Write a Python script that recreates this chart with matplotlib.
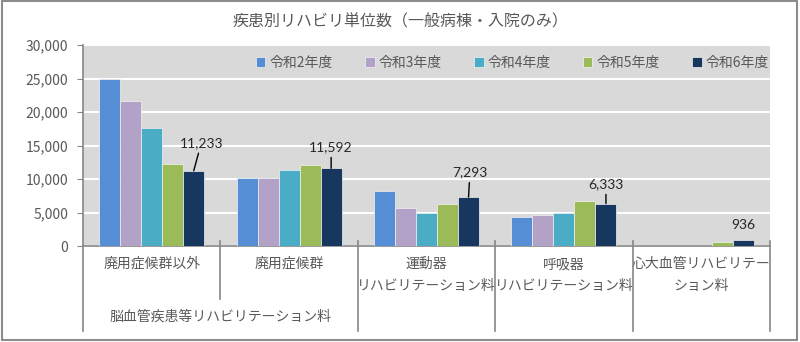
import matplotlib
matplotlib.use("Agg")
import matplotlib.pyplot as plt
import numpy as np
from matplotlib.patches import Rectangle
from matplotlib.ticker import FuncFormatter

plt.rcParams['font.family'] = ['Noto Sans CJK JP', 'DejaVu Sans']

title = "疾患別リハビリ単位数（一般病棟・入院のみ）"
categories = ["廃用症候群以外", "廃用症候群", "運動器\nリハビリテーション料",
              "呼吸器\nリハビリテーション料", "心大血管リハビリテー\nション料"]
group_label = "脳血管疾患等リハビリテーション料"
series_names = ["令和2年度", "令和3年度", "令和4年度", "令和5年度", "令和6年度"]
r2 = [25000, 10100, 8200, 4300, 0]
r3 = [21600, 10100, 5600, 4600, 0]
r4 = [17600, 11400, 5000, 5000, 0]
r5 = [12200, 12100, 6300, 6700, 550]
r6 = [11233, 11592, 7293, 6333, 936]
series = [r2, r3, r4, r5, r6]
colors = ["#558ED5", "#B3A2C7", "#4BACC6", "#9BBB59", "#17375E"]
yticks = [0, 5000, 10000, 15000, 20000, 25000, 30000]

# label offsets (points) for the last-series data labels
label_offsets = [(5.4, 19.9), (0, 15.3), (1, 18), (0, 14.1), (0, 10.6)]
label_leader = [True, True, True, True, False]

fig = plt.figure(figsize=(8, 3.42), dpi=100)
ax = fig.add_axes([83/800, 1-246/342, (770-83)/800, (246-45)/342])
ax.set_facecolor("#D9D9D9")

x = np.arange(len(categories))
w = 0.153
for i, (vals, name, c) in enumerate(zip(series, series_names, colors)):
    ax.bar(x + (i-2)*w, vals, width=w, color=c, edgecolor="#f2f2f2",
           linewidth=0.5, label=name, zorder=3)

# data labels for last series
for xi, v, off, lead in zip(x, r6, label_offsets, label_leader):
    xb = xi + 2*w
    kw = dict(xy=(xb, v), xytext=off, textcoords="offset points",
              ha="center", va="center", fontsize=10, color="#262626",
              family=["Lato", "DejaVu Sans"], zorder=5)
    if lead:
        kw["arrowprops"] = dict(arrowstyle="-", color="black", lw=1.0,
                                patchA=None, shrinkA=7.5, shrinkB=0)
    ax.annotate(f"{v:,}", **kw)

ax.set_xlim(-0.5, len(categories)-0.5)
ax.set_ylim(0, 30000)
ax.set_yticks(yticks)
ax.yaxis.set_major_formatter(FuncFormatter(lambda v, p: f"{int(v):,}"))
ax.tick_params(axis='y', direction='out', length=4, color="#868686",
               labelsize=10, labelcolor="#595959", pad=6.5)
ax.set_xticks([])
ax.grid(axis='y', color="white", lw=1.5, zorder=1)
ax.set_axisbelow(True)
for s in ["top", "right"]:
    ax.spines[s].set_visible(False)
for s in ["left", "bottom"]:
    ax.spines[s].set_color("#868686")
    ax.spines[s].set_linewidth(1.2)

# multi-level category axis
trans = ax.get_xaxis_transform()
for b in np.arange(-0.5, len(categories), 1.0):
    bottom = -0.264 if abs(b - 0.5) < 1e-6 else -0.423
    top = 0.0 if b == -0.5 else 0.025
    ax.plot([b, b], [top, bottom], transform=trans, color="#868686", lw=1.2,
            clip_on=False, zorder=4)
for xi, lab in zip(x, categories):
    for j, line in enumerate(lab.split("\n")):
        ax.text(xi, -0.0896 - j*0.108, line, transform=trans, ha="center",
                va="center", fontsize=10, color="#595959")
ax.text(0.5, -0.353, group_label, transform=trans, ha="center", va="center",
        fontsize=10, color="#595959")

leg = ax.legend(loc="center", bbox_to_anchor=(0.625, 0.91), ncol=5, frameon=False,
                fontsize=10, handlelength=0.7, handleheight=0.7, handletextpad=0.3,
                columnspacing=2.3, labelcolor="#595959")

fig.text(0.5, 1-22/342, title, ha="center", va="center", fontsize=11.5, color="#595959")

fig.patches.append(Rectangle((1.5/800, 2/342), 795.5/800, 338.5/342, transform=fig.transFigure,
                             fill=False, edgecolor="#8c8c8c", lw=1.5))

fig.savefig("out.png", dpi=100)
